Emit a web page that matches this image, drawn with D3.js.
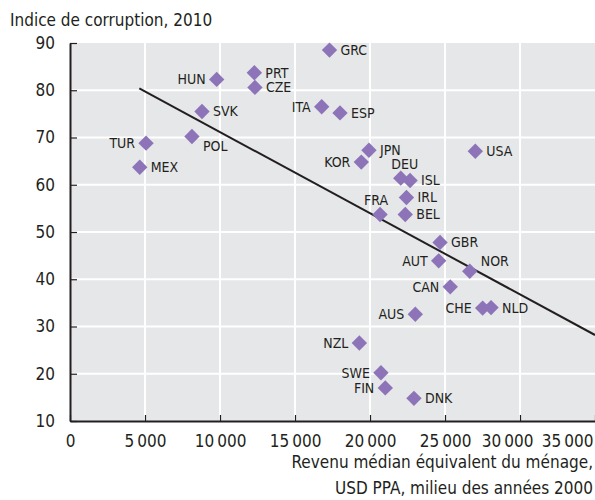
<!DOCTYPE html>
<html>
<head>
<meta charset="utf-8">
<script src="https://cdn.jsdelivr.net/npm/d3@7"></script>
<style>
  body { margin: 0; background: #fff; }
  svg text { font-family: "Liberation Sans Narrow", "DejaVu Sans Condensed", "Arial Narrow", sans-serif; fill: #231f20; }
</style>
</head>
<body>
<svg id="chart" width="595" height="500"></svg>
<script>
  var countries = ['GRC', 'HUN', 'PRT', 'CZE', 'ITA', 'ESP', 'SVK', 'TUR', 'POL', 'MEX', 'KOR', 'JPN', 'USA',
    'DEU', 'ISL', 'FRA', 'IRL', 'BEL', 'GBR', 'AUT', 'NOR', 'CAN', 'CHE', 'NLD', 'AUS', 'NZL', 'SWE', 'FIN', 'DNK'];
  var income = [17300, 9780, 12290, 12330, 16780, 18000, 8800, 5070, 8130, 4650, 19420, 19930, 27020,
    22050, 22670, 20670, 22430, 22350, 24670, 24580, 26650, 25350, 27510, 28070, 23020, 19290, 20730, 21020, 22930];
  var corruption = [88.5, 82.3, 83.7, 80.6, 76.5, 75.2, 75.5, 68.8, 70.2, 63.7, 64.8, 67.3, 67.1,
    61.4, 60.9, 53.7, 57.3, 53.7, 47.8, 43.9, 41.7, 38.4, 33.9, 34.0, 32.6, 26.5, 20.2, 17.0, 14.8];
  // where the label sits relative to its marker
  var labelSide = ['r', 'l', 'r', 'r', 'l', 'r', 'r', 'l', 'br', 'r', 'l', 'r', 'r',
    't', 'r', 't', 'r', 'r', 'r', 'l', 'tr', 'l', 'l', 'r', 'l', 'l', 'l', 'l', 'r'];

  var trendX = [4620, 35000];
  var trendY = [80.4, 28.2];

  var xTicks = [0, 5000, 10000, 15000, 20000, 25000, 30000, 35000];
  var yTicks = [10, 20, 30, 40, 50, 60, 70, 80, 90];

  var margin = { top: 43, right: 0, bottom: 79, left: 70 };
  var width = 595 - margin.left - margin.right;
  var height = 500 - margin.top - margin.bottom;

  var svg = d3.select('#chart');
  var g = svg.append('g')
    .attr('transform', 'translate(' + margin.left + ',' + margin.top + ')');

  var x = d3.scaleLinear().domain([0, 35000]).range([0, width]);
  var y = d3.scaleLinear().domain([10, 90]).range([height, 0]);

  g.append('rect')
    .attr('width', width)
    .attr('height', height)
    .attr('fill', '#e6e7e9');

  // grid
  g.selectAll('line.vgrid')
    .data(xTicks.slice(1, -1))
    .enter().append('line')
    .attr('class', 'vgrid')
    .attr('x1', function(d) { return x(d); })
    .attr('x2', function(d) { return x(d); })
    .attr('y1', 0)
    .attr('y2', height)
    .attr('stroke', '#fff')
    .attr('stroke-width', 2);

  g.selectAll('line.hgrid')
    .data(yTicks.slice(1, -1))
    .enter().append('line')
    .attr('class', 'hgrid')
    .attr('x1', 0)
    .attr('x2', width)
    .attr('y1', function(d) { return y(d); })
    .attr('y2', function(d) { return y(d); })
    .attr('stroke', '#fff')
    .attr('stroke-width', 2);

  // axes
  var fmt = function(d) { return d3.format(',')(d).replace(/,/g, '\u2009'); };

  var xAxis = g.append('g')
    .attr('transform', 'translate(0,' + height + ')')
    .call(d3.axisBottom(x).tickValues(xTicks).tickSizeInner(-6).tickSizeOuter(0).tickFormat(fmt));
  xAxis.select('.domain').attr('stroke', '#231f20').attr('stroke-width', 2);
  xAxis.selectAll('.tick line').attr('stroke', '#231f20').attr('stroke-width', 1.2);
  xAxis.selectAll('.tick text')
    .attr('font-size', 17)
    .attr('y', 14)
    .attr('dy', '0.71em');
  // last two labels are pushed in so they stay on the page
  xAxis.selectAll('.tick text')
    .filter(function(d) { return d === 35000; })
    .attr('text-anchor', 'end')
    .attr('dx', -2);
  xAxis.selectAll('.tick text')
    .filter(function(d) { return d === 30000; })
    .attr('text-anchor', 'end')
    .attr('dx', 13);

  var yAxis = g.append('g')
    .call(d3.axisLeft(y).tickValues(yTicks).tickSizeInner(-7).tickSizeOuter(0));
  yAxis.select('.domain').attr('stroke', '#231f20').attr('stroke-width', 2);
  yAxis.selectAll('.tick line').attr('stroke', '#231f20').attr('stroke-width', 1.2);
  yAxis.selectAll('.tick text')
    .attr('font-size', 17)
    .attr('x', -15);

  svg.selectAll('.tick text').attr('fill', '#231f20');
  xAxis.attr('font-family', null);
  yAxis.attr('font-family', null);

  // trend line
  g.append('line')
    .attr('x1', x(trendX[0]))
    .attr('y1', y(trendY[0]))
    .attr('x2', x(trendX[1]))
    .attr('y2', y(trendY[1]))
    .attr('stroke', '#231f20')
    .attr('stroke-width', 2);

  var points = countries.map(function(c, i) {
    return { code: c, x: income[i], y: corruption[i], side: labelSide[i] };
  });

  var diamond = d3.symbol().type(d3.symbolSquare).size(118);

  g.selectAll('path.pt')
    .data(points)
    .enter().append('path')
    .attr('class', 'pt')
    .attr('d', diamond)
    .attr('transform', function(d) { return 'translate(' + x(d.x) + ',' + y(d.y) + ') rotate(45)'; })
    .attr('fill', '#8d74b8');

  g.selectAll('text.lbl')
    .data(points)
    .enter().append('text')
    .attr('class', 'lbl')
    .attr('font-size', 14)
    .attr('x', function(d) {
      var px = x(d.x);
      if (d.side === 'r' || d.side === 'br' || d.side === 'tr') return px + 11;
      if (d.side === 'l') return px - 11;
      return px + (d.code === 'DEU' ? 4 : -4);
    })
    .attr('y', function(d) {
      var py = y(d.y);
      if (d.side === 'br') return py + 10;
      if (d.side === 'tr') return py - 10;
      if (d.side === 't') return py - 14;
      return py;
    })
    .attr('dy', '0.35em')
    .attr('text-anchor', function(d) {
      if (d.side === 'l') return 'end';
      if (d.side === 't') return 'middle';
      return 'start';
    })
    .text(function(d) { return d.code; });

  svg.append('text')
    .attr('x', 10)
    .attr('y', 26)
    .attr('font-size', 17)
    .text('Indice de corruption, 2010');

  svg.append('text')
    .attr('x', 593)
    .attr('y', 468)
    .attr('font-size', 17)
    .attr('text-anchor', 'end')
    .text('Revenu médian équivalent du ménage,');

  svg.append('text')
    .attr('x', 593)
    .attr('y', 494)
    .attr('font-size', 17)
    .attr('text-anchor', 'end')
    .text('USD PPA, milieu des années 2000');
</script>
</body>
</html>
